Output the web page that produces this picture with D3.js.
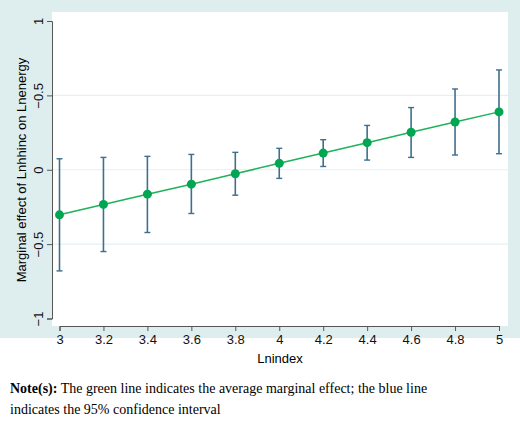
<!DOCTYPE html><html><head><meta charset="utf-8">
<script src="https://cdn.jsdelivr.net/npm/d3@7"></script>
<style>body{margin:0;background:#fff}svg{display:block}</style></head><body>
<svg id="c" width="520" height="427"></svg>
<script>
const xVals=[3,3.2,3.4,3.6,3.8,4,4.2,4.4,4.6,4.8,5];
const effect=[-0.303,-0.233,-0.164,-0.097,-0.027,0.043,0.112,0.182,0.252,0.321,0.389];
const upper=[0.074,0.083,0.090,0.103,0.117,0.144,0.202,0.298,0.418,0.543,0.671];
const lower=[-0.680,-0.550,-0.422,-0.294,-0.171,-0.058,0.022,0.065,0.083,0.099,0.108];
const yTicks=[1,0.5,0,-0.5,-1];
const yTickLabels=["1","\u22120.5","0","\u22120.5","\u22121"];
const xTicks=[3,3.2,3.4,3.6,3.8,4,4.2,4.4,4.6,4.8,5];
const font="Liberation Sans, Arial";
const svg=d3.select("#c");
svg.append("rect").attr("width",520).attr("height",338).attr("fill","#deeeee");
svg.append("rect").attr("x",52).attr("y",12).attr("width",456).attr("height",314).attr("fill","#fff");
const x=d3.scaleLinear().domain([3,5]).range([59.5,499]);
const y=d3.scaleLinear().domain([-1,1]).range([318.5,21]);
svg.append("g").selectAll("line").data([0.5,0,-0.5]).join("line")
 .attr("x1",52).attr("x2",508).attr("y1",d=>y(d)).attr("y2",d=>y(d)).attr("stroke","#e3f1f4").attr("stroke-width",1.2);
const ya=svg.append("g").attr("transform","translate(52,0)")
 .call(d3.axisLeft(y).tickValues(yTicks).tickSize(5).tickFormat((d,i)=>yTickLabels[i]));
ya.selectAll(".tick text").attr("transform","rotate(-90)").attr("x",0).attr("y",-9).attr("dy",0)
 .attr("text-anchor","middle").style("font-family",font).style("font-size","13px").attr("fill","#111");
const xa=svg.append("g").attr("transform","translate(0,326)")
 .call(d3.axisBottom(x).tickValues(xTicks).tickSize(5).tickFormat(d3.format("")));
xa.selectAll("text").attr("y",9).style("font-family",font).style("font-size","13px").attr("fill","#111");
[ya,xa].forEach(a=>{a.select(".domain").attr("stroke","#555");a.selectAll("line").attr("stroke","#555");});
svg.append("text").attr("x",280).attr("y",363).attr("text-anchor","middle").style("font-family",font).style("font-size","13px").text("Lnindex");
svg.append("text").attr("transform","translate(26,170) rotate(-90)").attr("text-anchor","middle").style("font-family",font).style("font-size","13px").text("Marginal effect of Lnhhinc on Lnenergy");
const col="#3e6f8e";
const g=svg.append("g");
xVals.forEach((v,i)=>{
 g.append("line").attr("x1",x(v)).attr("x2",x(v)).attr("y1",y(upper[i])).attr("y2",y(lower[i])).attr("stroke",col).attr("stroke-width",1.6);
 [upper[i],lower[i]].forEach(b=>g.append("line").attr("x1",x(v)-3).attr("x2",x(v)+3).attr("y1",y(b)).attr("y2",y(b)).attr("stroke",col).attr("stroke-width",1.4));
});
svg.append("path").datum(xVals.map((v,i)=>[v,effect[i]])).attr("fill","none").attr("stroke","#1fb25a").attr("stroke-width",1.5)
 .attr("d",d3.line().x(d=>x(d[0])).y(d=>y(d[1])));
svg.append("g").selectAll("circle").data(xVals).join("circle").attr("cx",d=>x(d)).attr("cy",(d,i)=>y(effect[i])).attr("r",4.5).attr("fill","#00a651");
const note=svg.append("text").attr("x",10).attr("y",393).style("font-family","Liberation Serif, Times New Roman").style("font-size","14px");
note.append("tspan").attr("font-weight","bold").text("Note(s):");
note.append("tspan").text(" The green line indicates the average marginal effect; the blue line");
svg.append("text").attr("x",10).attr("y",414).style("font-family","Liberation Serif, Times New Roman").style("font-size","14px").text("indicates the 95% confidence interval");
</script></body></html>
